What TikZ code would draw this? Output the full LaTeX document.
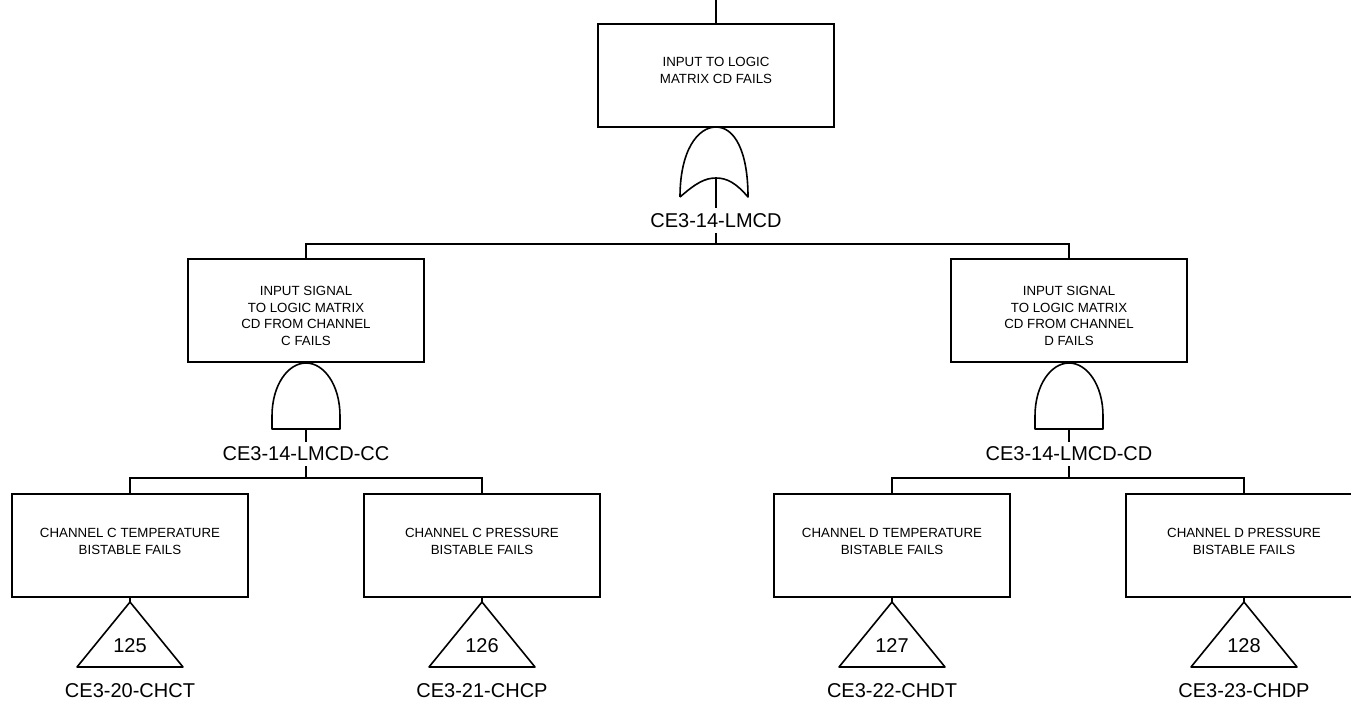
\documentclass[tikz,border=0pt]{standalone}
\usepackage{fontspec}
\setmainfont{Liberation Sans}
\tikzset{
  box/.style={draw, line width=1.6pt, minimum width=236pt, minimum height=103pt, inner sep=0pt},
  btxt/.style={font=\fontsize{13.3}{16.7}\selectfont, align=center, inner sep=0pt},
  lbl/.style={font=\fontsize{20}{24}\selectfont, inner sep=5pt},
  num/.style={font=\fontsize{20}{24}\selectfont, inner sep=0pt},
  wire/.style={line width=1.6pt},
  gate/.style={draw, line width=1.6pt, line join=round},
}
\begin{document}
\begin{tikzpicture}[x=1pt,y=-1pt]
\useasboundingbox (0,0) rectangle (1351,702);
\clip (0,0) rectangle (1351,702);

% top event
\coordinate (topin) at (716,0);
\node[box] (tb) at (716,75.5) {};
\node[btxt] (tbt) at (716,70.5) {INPUT TO LOGIC\\MATRIX CD FAILS};
\draw[wire] (topin) -- (tb.north);

% OR gate
\coordinate (orA) at (716,127);
\coordinate (orB) at (716,178);
\draw[gate] (680,197) .. controls (680,150) and (698,127) .. (orA)
  .. controls (734,127) and (748,150) .. (748,197)
  .. controls (736,183) and (727,178) .. (orB)
  .. controls (705,178) and (696,183) .. (680,197);
\node[lbl] (g0) at (716,220.5) {CE3-14-LMCD};
\draw[wire] (orB) -- (g0.north);
\coordinate (j0) at (716,244);
\draw[wire] (g0.south) -- (j0);

% middle boxes
\node[box] (mL) at (306,310.5) {};
\node[btxt] (mLt) at (306,316) {INPUT SIGNAL\\TO LOGIC MATRIX\\CD FROM CHANNEL\\C FAILS};
\node[box] (mR) at (1069,310.5) {};
\node[btxt] (mRt) at (1069,316) {INPUT SIGNAL\\TO LOGIC MATRIX\\CD FROM CHANNEL\\D FAILS};
\draw[wire] (mL.north) |- (j0) -| (mR.north);

% AND gates
\coordinate (aLt) at (306,363);
\coordinate (aLb) at (306,429);
\draw[gate] (272,429) -- (272,416) .. controls (272,385) and (288,363) .. (aLt)
  .. controls (324,363) and (340,385) .. (340,416) -- (340,429) -- cycle;
\node[lbl] (gL) at (306,454) {CE3-14-LMCD-CC};
\draw[wire] (aLb) -- (gL.north);
\coordinate (jL) at (306,478);
\draw[wire] (gL.south) -- (jL);

\coordinate (aRt) at (1069,363);
\coordinate (aRb) at (1069,429);
\draw[gate] (1035,429) -- (1035,416) .. controls (1035,385) and (1051,363) .. (aRt)
  .. controls (1087,363) and (1103,385) .. (1103,416) -- (1103,429) -- cycle;
\node[lbl] (gR) at (1069,454) {CE3-14-LMCD-CD};
\draw[wire] (aRb) -- (gR.north);
\coordinate (jR) at (1069,478);
\draw[wire] (gR.south) -- (jR);

% bottom boxes
\node[box] (b1) at (130,545.5) {};
\node[btxt] (b1t) at (130,541.5) {CHANNEL C TEMPERATURE\\BISTABLE FAILS};
\node[box] (b2) at (482,545.5) {};
\node[btxt] (b2t) at (482,541.5) {CHANNEL C PRESSURE\\BISTABLE FAILS};
\node[box] (b3) at (892,545.5) {};
\node[btxt] (b3t) at (892,541.5) {CHANNEL D TEMPERATURE\\BISTABLE FAILS};
\node[box] (b4) at (1244,545.5) {};
\node[btxt] (b4t) at (1244,541.5) {CHANNEL D PRESSURE\\BISTABLE FAILS};
\draw[wire] (b1.north) |- (jL) -| (b2.north);
\draw[wire] (b3.north) |- (jR) -| (b4.north);

% transfer triangles
\coordinate (t1) at (130,602);
\coordinate (t2) at (482,602);
\coordinate (t3) at (892,602);
\coordinate (t4) at (1244,602);
\foreach \t in {t1,t2,t3,t4}{
  \draw[gate] (\t) -- ++(53,65) -- ++(-106,0) -- cycle;
}
\draw[wire] (b1.south) -- (t1);
\draw[wire] (b2.south) -- (t2);
\draw[wire] (b3.south) -- (t3);
\draw[wire] (b4.south) -- (t4);

\node[num] (n1) at (130,646) {125};
\node[num] (n2) at (482,646) {126};
\node[num] (n3) at (892,646) {127};
\node[num] (n4) at (1244,646) {128};

\node[lbl] (l1) at (130,690.5) {CE3-20-CHCT};
\node[lbl] (l2) at (482,690.5) {CE3-21-CHCP};
\node[lbl] (l3) at (892,690.5) {CE3-22-CHDT};
\node[lbl] (l4) at (1244,690.5) {CE3-23-CHDP};
\end{tikzpicture}
\end{document}
